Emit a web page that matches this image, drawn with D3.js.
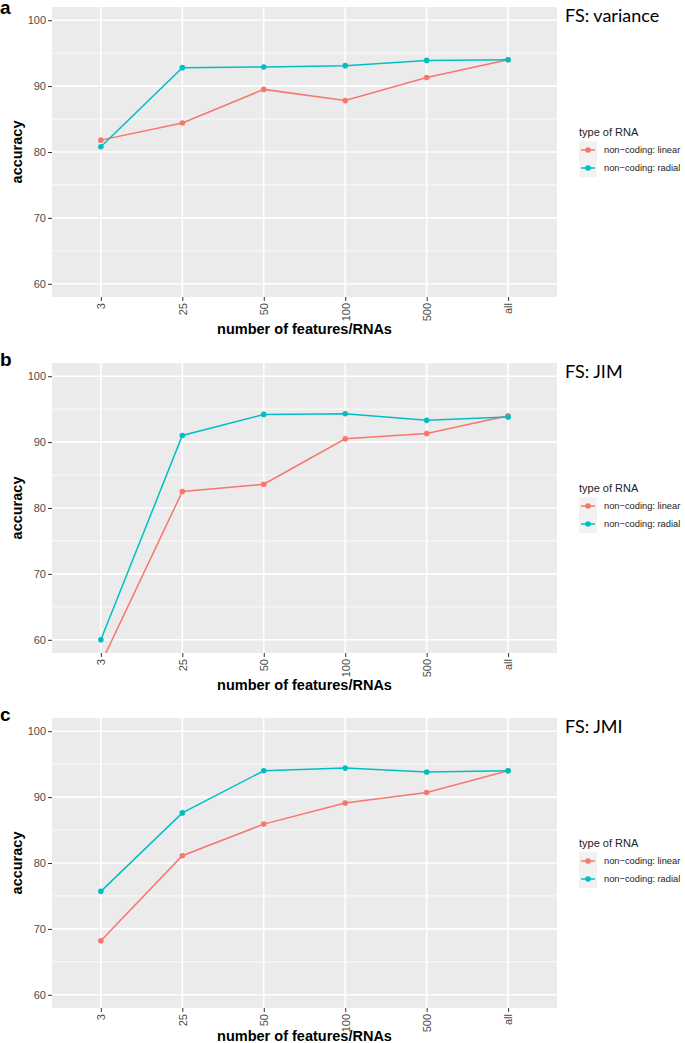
<!DOCTYPE html>
<html lang="en">
<head>
<meta charset="UTF-8">
<title>Accuracy vs number of features</title>
<script src="https://d3js.org/d3.v7.min.js"></script>
<style>
  body { margin: 0; background: #fff; }
</style>
</head>
<body>
<svg id="chart"></svg>
<script>
// categories and values
const features = ["3", "25", "50", "100", "500", "all"];
const yTicks = [60, 70, 80, 90, 100];
const seriesNames = ["non\u2212coding: linear", "non\u2212coding: radial"];
const panelLetters = ["a", "b", "c"];
const panelTitles = ["FS: variance", "FS: JIM", "FS: JMI"];

const varianceLinear = [81.8, 84.4, 89.5, 87.8, 91.3, 94.0];
const varianceRadial = [80.8, 92.8, 92.9, 93.1, 93.9, 94.0];
const jimLinear = [56.4, 82.5, 83.6, 90.5, 91.3, 94.0];
const jimRadial = [60.0, 91.0, 94.2, 94.3, 93.3, 93.8];
const jmiLinear = [68.2, 81.1, 85.9, 89.1, 90.7, 94.0];
const jmiRadial = [75.7, 87.6, 94.0, 94.4, 93.8, 94.0];

const panels = [
  [varianceLinear, varianceRadial],
  [jimLinear, jimRadial],
  [jmiLinear, jmiRadial]
];

const W = 685, H = 1043;
const panelTops = [7, 363, 718];
const panelH = 290;
const left = 52, right = 557;
const colors = ["#F8766D", "#00BFC4"];

const svg = d3.select("#chart").attr("width", W).attr("height", H);

const x = d3.scalePoint().domain(features).range([left, right]).padding(0.6);

panels.forEach((series, p) => {
  const top = panelTops[p];
  const y = d3.scaleLinear().domain([58, 102]).range([top + panelH, top]);
  const g = svg.append("g");

  g.append("rect")
    .attr("x", left).attr("y", top)
    .attr("width", right - left).attr("height", panelH)
    .attr("fill", "#EBEBEB");

  // minor grid
  g.selectAll(".minor")
    .data([65, 75, 85, 95])
    .enter().append("line")
    .attr("x1", left).attr("x2", right)
    .attr("y1", d => y(d)).attr("y2", d => y(d))
    .attr("stroke", "#fff").attr("stroke-width", 0.8);

  // major grid
  g.selectAll(".hmajor")
    .data(yTicks)
    .enter().append("line")
    .attr("x1", left).attr("x2", right)
    .attr("y1", d => y(d)).attr("y2", d => y(d))
    .attr("stroke", "#fff").attr("stroke-width", 1.6);
  g.selectAll(".vmajor")
    .data(features)
    .enter().append("line")
    .attr("x1", d => x(d)).attr("x2", d => x(d))
    .attr("y1", top).attr("y2", top + panelH)
    .attr("stroke", "#fff").attr("stroke-width", 1.6);

  // axes
  const yAxis = g.append("g")
    .attr("transform", `translate(${left},0)`)
    .call(d3.axisLeft(y).tickValues(yTicks).tickSize(4).tickPadding(2));
  yAxis.select(".domain").remove();
  yAxis.selectAll("line").attr("stroke", "#333");
  yAxis.selectAll("text")
    .attr("fill", "#4d4d4d")
    .style("font-family", "Liberation Sans, Arial, sans-serif")
    .style("font-size", "11px");

  const xAxis = g.append("g")
    .attr("transform", `translate(0,${top + panelH})`)
    .call(d3.axisBottom(x).tickSize(4).tickPadding(2));
  xAxis.select(".domain").remove();
  xAxis.selectAll("line").attr("stroke", "#333");
  xAxis.selectAll("text")
    .attr("fill", "#4d4d4d")
    .style("font-family", "Liberation Sans, Arial, sans-serif")
    .style("font-size", "11px")
    .attr("transform", "rotate(-90)")
    .attr("x", -6).attr("y", 0).attr("dy", "0.35em")
    .style("text-anchor", "end");

  // clip for data
  const clipId = "clip" + p;
  svg.append("clipPath").attr("id", clipId)
    .append("rect")
    .attr("x", left).attr("y", top)
    .attr("width", right - left).attr("height", panelH);

  const data = g.append("g").attr("clip-path", `url(#${clipId})`);
  const line = d3.line().x((d, i) => x(features[i])).y(d => y(d));

  series.forEach((vals, s) => {
    data.append("path")
      .datum(vals)
      .attr("d", line)
      .attr("fill", "none")
      .attr("stroke", colors[s])
      .attr("stroke-width", 1.5);
    data.selectAll(".pt" + s)
      .data(vals)
      .enter().append("circle")
      .attr("cx", (d, i) => x(features[i]))
      .attr("cy", d => y(d))
      .attr("r", 2.8)
      .attr("fill", colors[s]);
  });

  // labels
  g.append("text")
    .attr("x", 0).attr("y", Math.max(top + 3, 14))
    .style("font-family", "Liberation Sans, Arial, sans-serif")
    .style("font-weight", "bold").style("font-size", "19px")
    .text(panelLetters[p]);

  g.append("text")
    .attr("x", 565).attr("y", top + 15)
    .style("font-family", "Lato, sans-serif")
    .style("font-size", "18px")
    .text(panelTitles[p]);

  g.append("text")
    .attr("transform", `translate(22,${top + panelH / 2}) rotate(-90)`)
    .style("text-anchor", "middle")
    .style("font-family", "Liberation Sans, Arial, sans-serif")
    .style("font-weight", "bold").style("font-size", "14.5px")
    .text("accuracy");

  g.append("text")
    .attr("x", (left + right) / 2).attr("y", Math.min(top + panelH + 37, H - 2))
    .style("text-anchor", "middle")
    .style("font-family", "Liberation Sans, Arial, sans-serif")
    .style("font-weight", "bold").style("font-size", "14.5px")
    .text("number of features/RNAs");

  // legend
  const mid = top + panelH / 2;
  const lg = g.append("g").attr("transform", `translate(579,${mid})`);
  lg.append("text")
    .attr("x", 0).attr("y", -20).attr("dy", "0.35em")
    .style("font-family", "Liberation Sans, Arial, sans-serif")
    .style("font-size", "11px")
    .attr("fill", "#222")
    .text("type of RNA");
  seriesNames.forEach((name, s) => {
    const ky = -2 + s * 18;
    lg.append("rect")
      .attr("x", 0).attr("y", ky - 9)
      .attr("width", 18).attr("height", 18)
      .attr("fill", "#F2F2F2");
    lg.append("line")
      .attr("x1", 2).attr("x2", 16)
      .attr("y1", ky).attr("y2", ky)
      .attr("stroke", colors[s]).attr("stroke-width", 1.5);
    lg.append("circle")
      .attr("cx", 9).attr("cy", ky).attr("r", 2.8)
      .attr("fill", colors[s]);
    lg.append("text")
      .attr("x", 25).attr("y", ky).attr("dy", "0.35em")
      .style("font-family", "Liberation Sans, Arial, sans-serif")
      .style("font-size", "9.3px")
      .attr("fill", "#222")
      .text(name);
  });
});
</script>
</body>
</html>
